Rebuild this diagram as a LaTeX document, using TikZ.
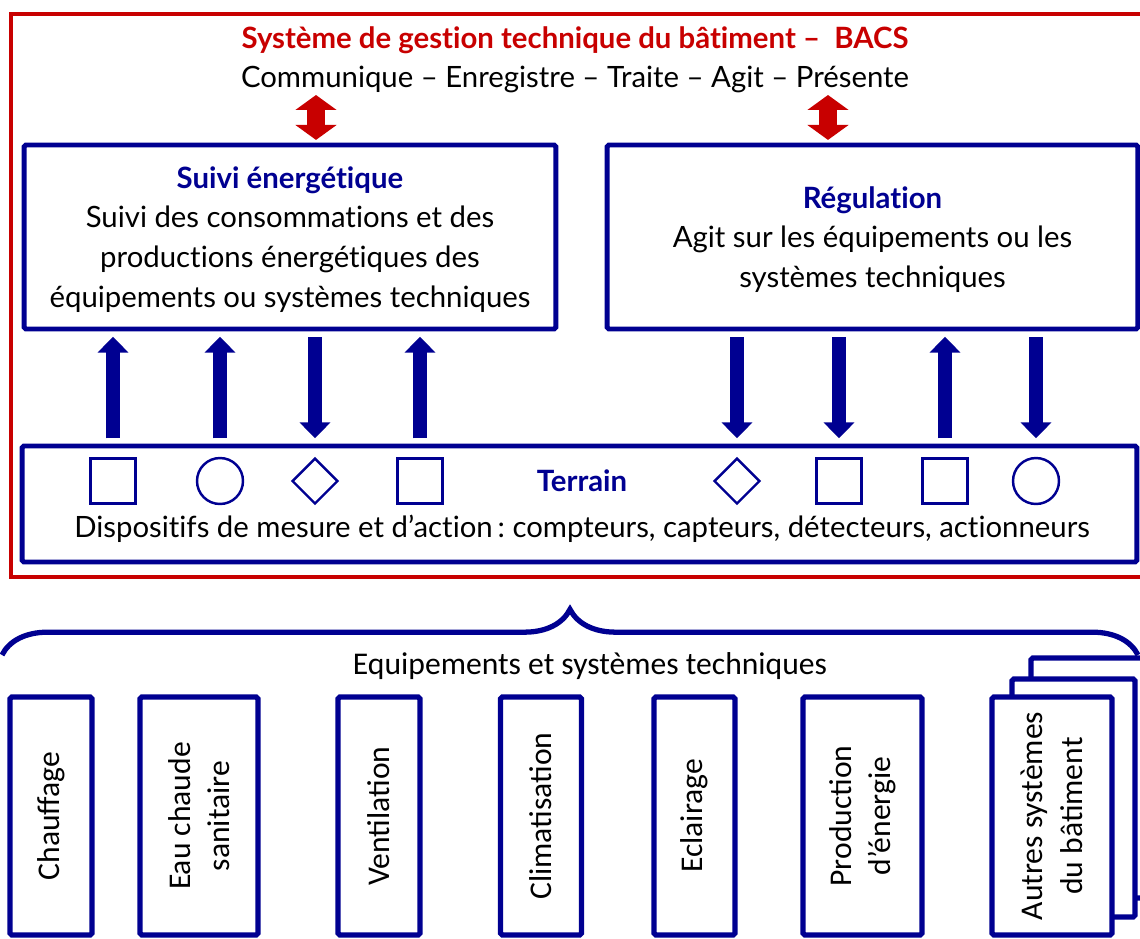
\documentclass[tikz,border=0pt]{standalone}
\usepackage{fontspec}
\setmainfont{Lato}[Ligatures=NoCommon]
\newfontfamily\calibri{Carlito}
\usetikzlibrary{arrows.meta,shapes.geometric,decorations.pathreplacing,positioning}
\definecolor{bacsred}{RGB}{200,0,0}
\definecolor{bacsblue}{RGB}{0,0,145}
\frenchspacing

\begin{document}
\begin{tikzpicture}[x=0.02cm,y=-0.02cm,
bigbox/.style={
draw=bacsblue,
line width=2.8pt,
rounded corners=1pt,
minimum height=3.68cm,
align=center,
inner sep=0pt,
text depth=0pt,
font=\fontsize{16.7}{22.7}\selectfont,
},
devsq/.style={draw=bacsblue,line width=1.4pt,minimum size=0.9cm,inner sep=0pt},
devci/.style={draw=bacsblue,line width=1.4pt,circle,minimum size=0.92cm,inner sep=0pt},
devdi/.style={draw=bacsblue,line width=1.4pt,diamond,minimum size=0.92cm,inner sep=0pt},
tobox/.style={draw=bacsblue,line width=8.5pt,-{Triangle[width=17pt,length=9pt]},shorten <=3pt,shorten >=3pt},
toterrain/.style={draw=bacsblue,line width=8.5pt,{Triangle[width=17pt,length=9pt]}-,shorten <=3pt,shorten >=3pt},
exchange/.style={draw=bacsred,line width=10.5pt,{Triangle[width=23pt,length=8.5pt]}-{Triangle[width=23pt,length=8.5pt]},shorten >=1.5pt},
equip/.style={
draw=bacsblue,
fill=white,
line width=3pt,
rounded corners=1pt,
rotate=90,
minimum width=4.76cm,
align=center,
inner sep=0pt,
font=\calibri\fontsize{18}{22.5}\selectfont,
},
]
\useasboundingbox (0,0) rectangle (1140,938);

% BACS frame
\draw[bacsred,line width=2.8pt] (11,14) rectangle (1160,577);
\node[text=bacsred,font=\bfseries\fontsize{16.7}{19}\selectfont] (bacs) at (575,40) {Système de gestion technique du bâtiment –~~BACS};
\node[font=\fontsize{16.7}{19}\selectfont] (actions) at (575,79) {Communique – Enregistre – Traite – Agit – Présente};

\node[bigbox,minimum width=10.64cm] (suivi) at (290,237) {\textcolor{bacsblue}{\bfseries Suivi énergétique}\\Suivi des consommations et des\\productions énergétiques des\\équipements ou systèmes techniques};
\node[bigbox,minimum width=10.62cm] (regul) at (872.5,237) {\textcolor{bacsblue}{\bfseries Régulation}\\Agit sur les équipements ou les\\systèmes techniques};

\coordinate (xsuivi) at (316,95);
\coordinate (xregul) at (828,95);
\draw[exchange] (xsuivi) -- (xsuivi |- suivi.north);
\draw[exchange] (xregul) -- (xregul |- regul.north);

% terrain
\node[draw=bacsblue,line width=2.8pt,rounded corners=1pt,minimum width=22.3cm,minimum height=2.32cm] (terrain) at (579.5,504) {};
\node[text=bacsblue,font=\bfseries\fontsize{16.7}{19}\selectfont] (terrainlabel) at (582,481) {Terrain};
\node[font=\fontsize{16.7}{19}\selectfont] (mesure) at (582,529) {Dispositifs de mesure et d’action\,: compteurs, capteurs, détecteurs, actionneurs};

\foreach \n/\x/\s/\d/\b in {%
  dev1/113/devsq/tobox/suivi,
  dev2/220/devci/tobox/suivi,
  dev3/315/devdi/toterrain/suivi,
  dev4/420/devsq/tobox/suivi,
  dev5/737/devdi/toterrain/regul,
  dev6/839/devsq/toterrain/regul,
  dev7/945/devsq/tobox/regul,
  dev8/1036/devci/toterrain/regul}
  {
  \node[\s] (\n) at (\x,481) {};
  \draw[\d] (terrain.north -| \n) -- (\b.south -| \n);
  }

% equipements
\draw[bacsblue,line width=3pt,decorate,decoration={brace,amplitude=26pt}] (2,655) -- (1138,655);
\node[font=\calibri\fontsize{18}{21}\selectfont] (equipements) at (590,666) {Equipements et systèmes techniques};

\node[draw=bacsblue,fill=white,line width=3pt,rounded corners=1pt,minimum width=2.62cm,minimum height=4.8cm] (sheet2) at (1096.5,778) {};
\node[draw=bacsblue,fill=white,line width=3pt,rounded corners=1pt,minimum width=2.46cm,minimum height=4.76cm] (sheet1) at (1073.5,798) {};

\foreach \n/\x/\w/\t in {%
  chauffage/51/1.64cm/Chauffage,
  ecs/199/2.36cm/{Eau chaude\\sanitaire},
  ventilation/379/1.64cm/Ventilation,
  clim/541/1.62cm/Climatisation,
  eclairage/694.5/1.62cm/Eclairage,
  production/862.5/2.38cm/{Production\\d’énergie},
  autres/1052/2.4cm/{Autres systèmes\\du bâtiment}}
  \node[equip,minimum height=\w] (\n) at (\x,816) {\t};
\end{tikzpicture}
\end{document}
